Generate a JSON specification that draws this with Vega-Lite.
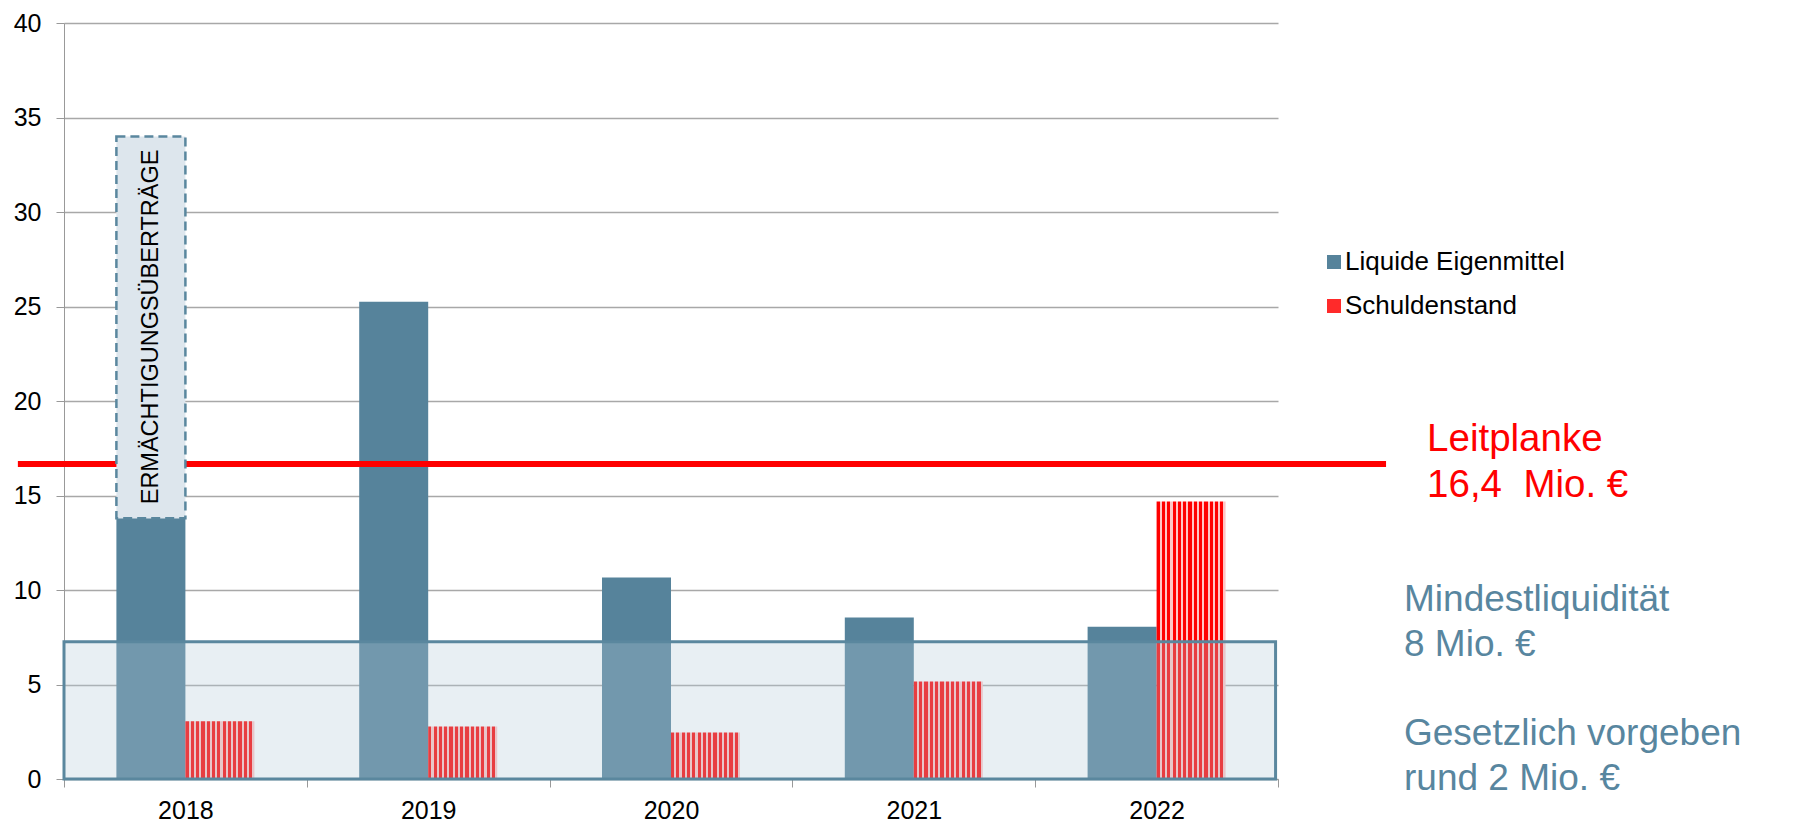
{
  "$schema": "https://vega.github.io/schema/vega-lite/v6.json",
  "width": 1214,
  "height": 756,
  "autosize": {"type": "none"},
  "padding": {"left": 64, "top": 23, "right": 515, "bottom": 45},
  "background": "white",
  "config": {
    "font": "Liberation Sans",
    "view": {"stroke": null},
    "axis": {"labelFontSize": 25, "labelColor": "#000000", "tickSize": 8, "tickColor": "#999999", "domainColor": "#999999", "title": null},
    "axisX": {"labelPadding": 11, "labelAngle": 0, "grid": false},
    "axisY": {"labelPadding": 15, "grid": true, "gridColor": "#a8a8a8", "gridWidth": 1.3}
  },
  "datasets": {
    "werte": [
      {"Jahr": "2018", "Serie": "Liquide Eigenmittel", "Wert": 13.8},
      {"Jahr": "2018", "Serie": "Schuldenstand", "Wert": 3.05},
      {"Jahr": "2019", "Serie": "Liquide Eigenmittel", "Wert": 25.25},
      {"Jahr": "2019", "Serie": "Schuldenstand", "Wert": 2.78},
      {"Jahr": "2020", "Serie": "Liquide Eigenmittel", "Wert": 10.66},
      {"Jahr": "2020", "Serie": "Schuldenstand", "Wert": 2.46},
      {"Jahr": "2021", "Serie": "Liquide Eigenmittel", "Wert": 8.54},
      {"Jahr": "2021", "Serie": "Schuldenstand", "Wert": 5.16},
      {"Jahr": "2022", "Serie": "Liquide Eigenmittel", "Wert": 8.06},
      {"Jahr": "2022", "Serie": "Schuldenstand", "Wert": 14.68}
    ],
    "ermaechtigung": [
      {"Jahr": "2018", "Serie": "Liquide Eigenmittel", "von": 13.8, "bis": 34.0, "Text": "ERMÄCHTIGUNGSÜBERTRÄGE"}
    ],
    "mindest": [{"Grenze": "Mindestliquidität", "Wert": 7.26}],
    "leitplanke": [{"Grenze": "Leitplanke", "Wert": 16.67}],
    "textLeit": [{"Text": "Leitplanke\n16,4\u00a0 Mio. €"}],
    "textMindest": [{"Text": "Mindestliquidität\n8 Mio. €"}],
    "textGesetz": [{"Text": "Gesetzlich vorgeben\nrund 2 Mio. €"}]
  },
  "resolve": {"scale": {"x": "independent", "xOffset": "independent"}, "axis": {"x": "independent"}},
  "layer": [
    {
      "data": {"name": "werte"},
      "transform": [{"filter": "datum.Serie === 'Liquide Eigenmittel'"}],
      "mark": {"type": "bar"},
      "encoding": {
        "x": {
          "field": "Jahr", "type": "nominal", "title": null,
          "scale": {"domain": ["2018", "2019", "2020", "2021", "2022"], "paddingInner": 0, "paddingOuter": 0},
          "axis": {"tickBand": "extent"}
        },
        "xOffset": {"field": "Serie", "type": "nominal", "scale": {"domain": ["Liquide Eigenmittel", "Schuldenstand"], "paddingInner": 0, "paddingOuter": 0.7594}},
        "y": {
          "field": "Wert", "type": "quantitative", "title": null,
          "scale": {"domain": [0, 40], "nice": false, "zero": true},
          "axis": {"values": [0, 5, 10, 15, 20, 25, 30, 35, 40]}
        },
        "color": {
          "field": "Serie", "type": "nominal",
          "scale": {"domain": ["Liquide Eigenmittel", "Schuldenstand"], "range": ["#56839b", "#ff2a2a"]},
          "legend": {
            "orient": "none", "legendX": 1257, "legendY": 226, "title": null, "labelFontSize": 26, "labelColor": "#000000", "labelLimit": 500,
            "symbolType": "square", "symbolSize": 196, "symbolStrokeWidth": 0, "rowPadding": 18, "labelOffset": -2, "padding": 0
          }
        }
      }
    },
    {
      "data": {"name": "werte"},
      "transform": [{"filter": "datum.Serie === 'Schuldenstand'"}],
      "mark": {"type": "bar", "fill": {"gradient": "linear", "x1": 0, "y1": 0, "x2": 1, "y2": 0, "stops": [
        {"offset": 0, "color": "#ff0000"}, {"offset": 0.0462, "color": "#ff0000"}, {"offset": 0.0462, "color": "#ffc4c4"}, {"offset": 0.0769, "color": "#ffc4c4"},
        {"offset": 0.0769, "color": "#ff0000"}, {"offset": 0.1231, "color": "#ff0000"}, {"offset": 0.1231, "color": "#ffc4c4"}, {"offset": 0.1538, "color": "#ffc4c4"},
        {"offset": 0.1538, "color": "#ff0000"}, {"offset": 0.2, "color": "#ff0000"}, {"offset": 0.2, "color": "#ffc4c4"}, {"offset": 0.2308, "color": "#ffc4c4"},
        {"offset": 0.2308, "color": "#ff0000"}, {"offset": 0.2769, "color": "#ff0000"}, {"offset": 0.2769, "color": "#ffc4c4"}, {"offset": 0.3077, "color": "#ffc4c4"},
        {"offset": 0.3077, "color": "#ff0000"}, {"offset": 0.3538, "color": "#ff0000"}, {"offset": 0.3538, "color": "#ffc4c4"}, {"offset": 0.3846, "color": "#ffc4c4"},
        {"offset": 0.3846, "color": "#ff0000"}, {"offset": 0.4308, "color": "#ff0000"}, {"offset": 0.4308, "color": "#ffc4c4"}, {"offset": 0.4615, "color": "#ffc4c4"},
        {"offset": 0.4615, "color": "#ff0000"}, {"offset": 0.5077, "color": "#ff0000"}, {"offset": 0.5077, "color": "#ffc4c4"}, {"offset": 0.5385, "color": "#ffc4c4"},
        {"offset": 0.5385, "color": "#ff0000"}, {"offset": 0.5846, "color": "#ff0000"}, {"offset": 0.5846, "color": "#ffc4c4"}, {"offset": 0.6154, "color": "#ffc4c4"},
        {"offset": 0.6154, "color": "#ff0000"}, {"offset": 0.6615, "color": "#ff0000"}, {"offset": 0.6615, "color": "#ffc4c4"}, {"offset": 0.6923, "color": "#ffc4c4"},
        {"offset": 0.6923, "color": "#ff0000"}, {"offset": 0.7385, "color": "#ff0000"}, {"offset": 0.7385, "color": "#ffc4c4"}, {"offset": 0.7692, "color": "#ffc4c4"},
        {"offset": 0.7692, "color": "#ff0000"}, {"offset": 0.8154, "color": "#ff0000"}, {"offset": 0.8154, "color": "#ffc4c4"}, {"offset": 0.8462, "color": "#ffc4c4"},
        {"offset": 0.8462, "color": "#ff0000"}, {"offset": 0.8923, "color": "#ff0000"}, {"offset": 0.8923, "color": "#ffc4c4"}, {"offset": 0.9231, "color": "#ffc4c4"},
        {"offset": 0.9231, "color": "#ff0000"}, {"offset": 0.9692, "color": "#ff0000"}, {"offset": 0.9692, "color": "#ffc4c4"}, {"offset": 1, "color": "#ffc4c4"}
      ]}},
      "encoding": {
        "x": {"field": "Jahr", "type": "nominal", "scale": {"domain": ["2018", "2019", "2020", "2021", "2022"], "paddingInner": 0, "paddingOuter": 0}, "axis": null},
        "xOffset": {"field": "Serie", "type": "nominal", "scale": {"domain": ["Liquide Eigenmittel", "Schuldenstand"], "paddingInner": 0, "paddingOuter": 0.7594}},
        "y": {"field": "Wert", "type": "quantitative", "title": null}
      }
    },
    {
      "data": {"name": "mindest"},
      "mark": {"type": "rect", "fill": "#b4cad6", "fillOpacity": 0.3, "stroke": "#5a879e", "strokeWidth": 3, "strokeOpacity": 1},
      "encoding": {
        "x": {"datum": 0, "type": "quantitative", "scale": {"domain": [0, 5], "nice": false, "zero": false}, "axis": null},
        "x2": {"datum": 4.99},
        "y": {"field": "Wert", "type": "quantitative", "title": null},
        "y2": {"datum": 0}
      }
    },
    {
      "data": {"name": "leitplanke"},
      "mark": {"type": "rule", "color": "#ff0000", "strokeWidth": 6},
      "encoding": {
        "x": {"datum": -0.19, "type": "quantitative", "scale": {"domain": [0, 5], "nice": false, "zero": false}, "axis": null},
        "x2": {"datum": 5.445},
        "y": {"field": "Wert", "type": "quantitative", "title": null}
      }
    },
    {
      "data": {"name": "ermaechtigung"},
      "mark": {"type": "bar", "fill": "#dde6ed", "stroke": "#5a879e", "strokeWidth": 2.5, "strokeDash": [9, 5]},
      "encoding": {
        "x": {"field": "Jahr", "type": "nominal", "scale": {"domain": ["2018", "2019", "2020", "2021", "2022"], "paddingInner": 0, "paddingOuter": 0}, "axis": null},
        "xOffset": {"field": "Serie", "type": "nominal", "scale": {"domain": ["Liquide Eigenmittel", "Schuldenstand"], "paddingInner": 0, "paddingOuter": 0.7594}},
        "y": {"field": "bis", "type": "quantitative", "title": null},
        "y2": {"field": "von"}
      }
    },
    {
      "data": {"name": "ermaechtigung"},
      "mark": {"type": "text", "angle": 270, "align": "center", "baseline": "middle", "fontSize": 23.5, "color": "#000000"},
      "encoding": {
        "x": {"datum": 0.3596, "type": "quantitative", "scale": {"domain": [0, 5], "nice": false, "zero": false}, "axis": null},
        "y": {"datum": 23.92, "type": "quantitative", "title": null},
        "text": {"field": "Text", "type": "nominal"}
      }
    },
    {
      "data": {"name": "textLeit"},
      "mark": {"type": "text", "align": "left", "baseline": "alphabetic", "fontSize": 38.5, "lineHeight": 46, "lineBreak": "\n", "color": "#ff0000"},
      "encoding": {
        "x": {"datum": 5.614, "type": "quantitative", "scale": {"domain": [0, 5], "nice": false, "zero": false}, "axis": null},
        "y": {"datum": 17.37, "type": "quantitative", "title": null},
        "text": {"field": "Text", "type": "nominal"}
      }
    },
    {
      "data": {"name": "textMindest"},
      "mark": {"type": "text", "align": "left", "baseline": "alphabetic", "fontSize": 37, "lineHeight": 45, "lineBreak": "\n", "color": "#58869f"},
      "encoding": {
        "x": {"datum": 5.519, "type": "quantitative", "scale": {"domain": [0, 5], "nice": false, "zero": false}, "axis": null},
        "y": {"datum": 8.905, "type": "quantitative", "title": null},
        "text": {"field": "Text", "type": "nominal"}
      }
    },
    {
      "data": {"name": "textGesetz"},
      "mark": {"type": "text", "align": "left", "baseline": "alphabetic", "fontSize": 37, "lineHeight": 45, "lineBreak": "\n", "color": "#58869f"},
      "encoding": {
        "x": {"datum": 5.519, "type": "quantitative", "scale": {"domain": [0, 5], "nice": false, "zero": false}, "axis": null},
        "y": {"datum": 1.8, "type": "quantitative", "title": null},
        "text": {"field": "Text", "type": "nominal"}
      }
    }
  ]
}
